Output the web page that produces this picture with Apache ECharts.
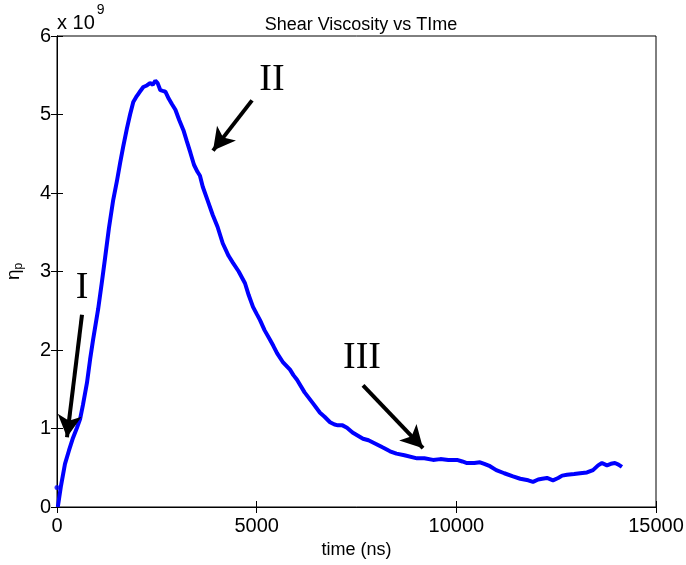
<!DOCTYPE html>
<html>
<head>
<meta charset="utf-8">
<script src="https://cdn.jsdelivr.net/npm/echarts@6/dist/echarts.min.js"></script>
<style>html,body{margin:0;padding:0;background:#fff}#c{width:686px;height:565px}</style>
</head>
<body>
<div id="c"></div>
<script>
// time (ns)
var times = [20,100,200,300,400,500,578,650,750,829,900,1030,1120,1206,1300,1407,1500,1580,1658,1750,1830,1910,1980,2060,2161,2250,2330,2400,2462,2520,2588,2650,2714,2800,2880,2965,3060,3166,3250,3342,3430,3518,3580,3650,3769,3900,4020,4150,4296,4407,4550,4708,4800,4908,5000,5084,5200,5334,5420,5510,5650,5835,5920,6010,6200,6411,6586,6700,6837,6950,7037,7150,7262,7400,7663,7800,8000,8150,8339,8500,8700,9015,9200,9416,9600,9800,10017,10150,10267,10450,10593,10700,10843,11000,11200,11419,11600,11800,11920,12050,12150,12270,12420,12550,12650,12771,12950,13100,13271,13422,13550,13647,13772,13870,13972,14060,14147];
// shear viscosity (x 1e9)
var viscosity = [0.00,0.27,0.55,0.72,0.88,1.01,1.12,1.30,1.58,1.88,2.12,2.52,2.85,3.18,3.55,3.91,4.15,4.38,4.59,4.82,5.00,5.16,5.22,5.28,5.35,5.37,5.40,5.38,5.43,5.40,5.31,5.30,5.29,5.20,5.13,5.06,4.93,4.80,4.66,4.51,4.36,4.27,4.22,4.08,3.91,3.72,3.57,3.36,3.20,3.11,3.00,2.85,2.70,2.55,2.46,2.38,2.25,2.13,2.05,1.96,1.85,1.75,1.68,1.62,1.46,1.32,1.20,1.15,1.08,1.05,1.04,1.04,1.01,0.95,0.87,0.85,0.80,0.76,0.71,0.68,0.66,0.62,0.62,0.60,0.61,0.60,0.60,0.58,0.56,0.56,0.57,0.55,0.52,0.47,0.43,0.39,0.36,0.34,0.32,0.35,0.36,0.37,0.34,0.37,0.40,0.41,0.42,0.43,0.44,0.47,0.53,0.56,0.53,0.55,0.56,0.54,0.51];
// isolated first sample
var outlierTime = [0];
var outlierValue = [0.25];
// x ticks and y ticks
var xTicks = [0,5000,10000,15000];
var yTicks = [0,1,2,3,4,5,6];
// annotation labels and arrows
var annNames = ['I','II','III'];
var annLabel = [[626,2.79],[5384,5.44],[7638,1.90]];
var annTail = [[626,2.45],[4884,5.18],[7663,1.55]];
var annTip = [[250,0.89],[3907,4.54],[9166,0.75]];

var chart = echarts.init(document.getElementById('c'));
var mainData = times.map(function(t,i){return [t, viscosity[i]];});
var outData = outlierTime.map(function(t,i){return [t, outlierValue[i]];});
var tickFont = {fontFamily:'Liberation Sans', fontSize:20, color:'#000', formatter:function(v){return String(v);}};
var axisCommon = {
  axisLine:{show:true, lineStyle:{color:'#000', width:1}},
  axisTick:{show:true, inside:true, length:6, lineStyle:{color:'#000'}},
  splitLine:{show:false}
};
chart.setOption({
  animation:false,
  backgroundColor:'#fff',
  title:{text:'Shear Viscosity vs TIme', left:356, textAlign:'center', top:11,
    textStyle:{fontFamily:'Liberation Sans', fontSize:18, fontWeight:'normal', color:'#000'}},
  grid:{left:57, right:30, top:36, bottom:58, show:true, borderColor:'#000', borderWidth:1,
    containLabel:false, outerBoundsMode:'none'},
  xAxis:[
    Object.assign({type:'value', min:xTicks[0], max:xTicks[xTicks.length-1], interval:5000, position:'bottom',
      name:'time (ns)', nameLocation:'middle', nameGap:31,
      nameTextStyle:{fontFamily:'Liberation Sans', fontSize:18, color:'#000'},
      axisLabel:Object.assign({margin:9, showMinLabel:true, showMaxLabel:true}, tickFont)}, axisCommon),
    Object.assign({type:'value', min:xTicks[0], max:xTicks[xTicks.length-1], interval:5000, position:'top',
      axisLabel:{show:false}}, axisCommon)
  ],
  yAxis:[
    Object.assign({type:'value', min:yTicks[0], max:yTicks[yTicks.length-1], interval:1, position:'left',
      name:'{e|η}{s|p}', nameLocation:'middle', nameGap:32, nameRotate:90,
      nameTextStyle:{rich:{e:{fontFamily:'Liberation Sans', fontSize:19, color:'#000'}, s:{fontFamily:'Liberation Sans', fontSize:12, color:'#000', padding:[10,0,0,0]}}},
      axisLabel:Object.assign({margin:6}, tickFont)}, axisCommon),
    Object.assign({type:'value', min:yTicks[0], max:yTicks[yTicks.length-1], interval:1, position:'right',
      axisLabel:{show:false}}, axisCommon)
  ],
  graphic:[{type:'text', left:57, top:3, style:{
    text:'{a|x 10}{b|9}',
    rich:{a:{fontFamily:'Liberation Sans', fontSize:20, fill:'#000', padding:[10,0,0,0]},
          b:{fontFamily:'Liberation Sans', fontSize:14, fill:'#000', verticalAlign:'top', padding:[0,0,10,2]}}
  }}],
  series:[
    {type:'line', data:mainData, xAxisIndex:0, yAxisIndex:0, showSymbol:false,
      lineStyle:{color:'#0000ff', width:4}, itemStyle:{color:'#0000ff'}, silent:true,
      markLine:{silent:true, symbol:['none','arrow'], symbolSize:[18,22], animation:false,
        lineStyle:{color:'#000', width:4, type:'solid'}, label:{show:false},
        data:annTail.map(function(p,i){return [{coord:p},{coord:annTip[i]}];})},
      markPoint:{silent:true, symbol:'circle', symbolSize:0, animation:false,
        label:{show:true, position:'inside', fontFamily:'Liberation Serif', fontSize:38, color:'#000',
          formatter:function(p){return p.name;}},
        data:annLabel.map(function(p,i){return {name:annNames[i], coord:p};})}
    },
    {type:'scatter', data:outData, symbolSize:5, itemStyle:{color:'#0000ff'}, silent:true}
  ]
});
</script>
</body>
</html>
